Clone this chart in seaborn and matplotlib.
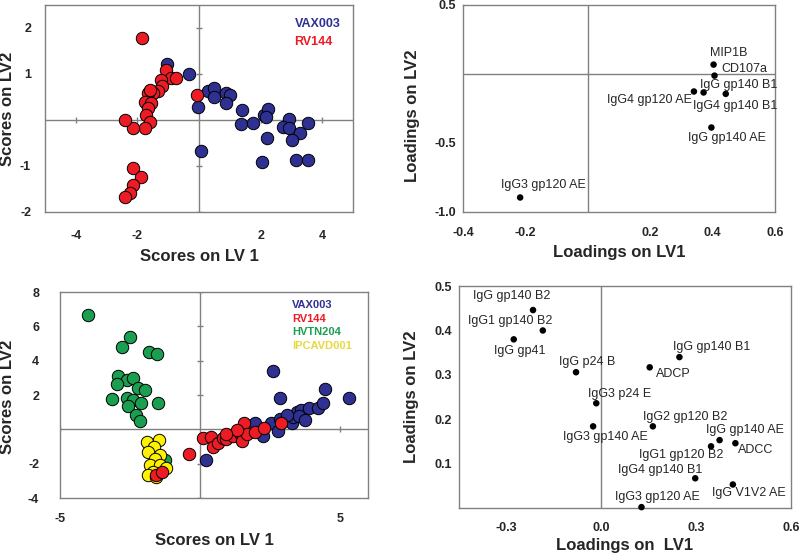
import matplotlib
matplotlib.use('Agg')
import matplotlib.pyplot as plt
import pandas as pd
import seaborn as sns

# ---- data: top-left scores (LV1, LV2) ----
s1_vax_x = [-1.03, -0.31, -0.02, 0.06, 0.28, 0.49, 0.49, 0.87, 1.01, 0.87, 1.39, 1.35, 1.76,
            2.11, 2.24, 2.19, 2.22, 2.05, 2.91, 2.73, 2.91, 3.29, 3.02, 3.53, 3.16, 3.53]
s1_vax_y = [1.21, 1.00, 0.29, -0.67, 0.62, 0.69, 0.51, 0.58, 0.54, 0.36, 0.22, -0.09, -0.06,
            0.11, 0.23, 0.07, -0.40, -0.92, 0.02, -0.15, -0.18, -0.29, -0.44, -0.06, -0.87, -0.86]
s1_rv_x = [-1.85, -1.06, -0.90, -0.74, -1.23, -1.19, -1.33, -1.49, -1.66, -1.60, -1.76, -1.55,
           -1.66, -1.71, -1.60, -1.76, -2.14, -2.39, -0.06, -2.14, -1.89, -2.14, -2.25, -2.41]
s1_rv_y = [1.79, 1.09, 0.91, 0.91, 0.87, 0.73, 0.62, 0.58, 0.58, 0.65, 0.40, 0.36,
           0.25, 0.11, -0.04, -0.18, -0.18, 0.01, 0.54, -1.05, -1.23, -1.42, -1.58, -1.67]

# ---- top-right loadings ----
l1_names = ['MIP1B', 'CD107a', 'IgG gp140 B1', 'IgG4 gp140 B1', 'IgG4 gp120 AE',
            'IgG gp140 AE', 'IgG3 gp120 AE']
l1_x = [0.403, 0.406, 0.442, 0.371, 0.340, 0.396, -0.217]
l1_y = [0.068, -0.012, -0.144, -0.134, -0.127, -0.388, -0.895]

# ---- bottom-left scores ----
s2_hvtn_x = [-3.99, -2.51, -2.77, -1.82, -1.52, -2.92, -2.62, -2.39, -2.96, -2.21, -1.95,
             -3.16, -2.59, -2.39, -2.09, -2.56, -1.50, -2.27, -2.13, -1.25]
s2_hvtn_y = [6.69, 5.39, 4.78, 4.49, 4.39, 3.08, 2.89, 3.02, 2.65, 2.40, 2.30,
             1.76, 1.85, 1.72, 1.52, 1.37, 1.56, 0.84, 0.51, -1.80]
s2_ipc_x = [-1.91, -1.46, -1.65, -1.85, -1.44, -1.62, -1.79, -1.44, -1.20, -1.67, -1.85, -1.56]
s2_ipc_y = [-0.72, -0.62, -1.01, -1.31, -1.50, -1.70, -2.09, -2.09, -2.28, -2.48, -2.67, -2.77]
s2_vax_x = [0.20, 2.62, 2.84, 1.95, 2.24, 2.54, 2.84, 2.78, 3.29, 3.31, 3.47, 3.61, 3.53,
            3.76, 3.91, 4.20, 4.38, 4.48, 5.31, 3.10]
s2_vax_y = [-1.80, 3.41, 1.81, 0.35, -0.39, 0.39, 0.59, -0.08, 0.39, 0.74, 1.03, 1.13, 0.78,
            0.55, 1.23, 1.23, 1.52, 2.34, 1.81, 0.84]
s2_rv_x = [-1.56, -1.34, -0.40, 0.11, 0.40, 0.46, 0.64, 0.82, 0.94, 1.18, 1.44, 1.50, 1.56,
           1.67, 1.95, 2.30, 2.90, 1.32, 0.94]
s2_rv_y = [-2.67, -2.48, -1.44, -0.53, -0.43, -1.01, -0.82, -0.53, -0.59, -0.39, -0.23, -0.66,
           0.39, -0.29, -0.14, 0.06, 0.35, -0.04, -0.30]

# ---- bottom-right loadings ----
l2_names = ['IgG gp140 B2', 'IgG1 gp140 B2', 'IgG gp41', 'IgG p24 B', 'IgG3 p24 E',
            'IgG3 gp140 AE', 'ADCP', 'IgG gp140 B1', 'IgG2 gp120 B2', 'IgG gp140 AE',
            'IgG1 gp120 B2', 'ADCC', 'IgG4 gp140 B1', 'IgG V1V2 AE', 'IgG3 gp120 AE']
l2_x = [-0.216, -0.185, -0.277, -0.080, -0.016, -0.026, 0.153, 0.247, 0.163, 0.374,
        0.347, 0.424, 0.297, 0.416, 0.127]
l2_y = [0.446, 0.400, 0.380, 0.306, 0.236, 0.184, 0.317, 0.340, 0.184, 0.153,
        0.139, 0.146, 0.067, 0.053, 0.002]

colors = {'VAX003': '#2e3192', 'RV144': '#ed1c24', 'HVTN204': '#1a9e50', 'IPCAVD001': '#fff200'}
text_colors = {'VAX003': '#2e3192', 'RV144': '#ed1c24', 'HVTN204': '#1a9e50', 'IPCAVD001': '#e8d840'}

sns.set_style('white')
plt.rcParams['font.family'] = ['Liberation Sans', 'DejaVu Sans']

fig = plt.figure(figsize=(8, 5.59), dpi=100)
ax1 = fig.add_axes([0.05625, 0.6208, 0.385, 0.3703])
ax2 = fig.add_axes([0.5788, 0.6208, 0.39, 0.3703])
ax3 = fig.add_axes([0.075, 0.1091, 0.385, 0.3685])
ax4 = fig.add_axes([0.5738, 0.0912, 0.415, 0.397])

line_c = '#808080'


def frame(ax, xlim, ylim, xt, yt, xtl, ytl, xpad, ypad, cross=True, marks=True):
    ax.set_xlim(xlim)
    ax.set_ylim(ylim)
    ax.set_xticks(xt)
    ax.set_xticklabels(xtl, fontweight='bold', fontsize=9)
    ax.set_yticks(yt)
    ax.set_yticklabels(ytl, fontweight='bold', fontsize=9)
    ax.tick_params(axis='x', length=0, pad=xpad)
    ax.tick_params(axis='y', length=0, pad=ypad)
    for sp in ax.spines.values():
        sp.set_color(line_c)
        sp.set_linewidth(1)
    ax.axvline(0, color=line_c, lw=1, zorder=0)
    if cross:
        ax.axhline(0, color=line_c, lw=1, zorder=0)
    if marks:
        # small tick marks on the crosshair
        ax.plot([0] * len(yt), yt, ls='none', marker='_', ms=4, color=line_c, zorder=0)
        ax.plot(xt, [0] * len(xt), ls='none', marker='|', ms=4, color=line_c, zorder=0)


def labels(ax, xlab, ylab, xy, yx, yy=0.5):
    ax.set_xlabel(xlab, fontweight='bold', fontsize=12, va='center')
    ax.set_ylabel(ylab, fontweight='bold', fontsize=12, va='center')
    ax.xaxis.set_label_coords(0.5, xy)
    ax.yaxis.set_label_coords(yx, yy)


def scores(ax, groups):
    for name, xs, ys in groups:
        df = pd.DataFrame({'x': xs, 'y': ys})
        sns.scatterplot(data=df, x='x', y='y', color=colors[name], s=80,
                        edgecolor='black', linewidth=0.7, ax=ax, zorder=3)


def legend_text(ax, names, x0, y0, step, fs):
    for i, n in enumerate(names):
        ax.text(x0, y0 - i * step, n, transform=ax.transAxes, color=text_colors[n],
                fontweight='bold', fontsize=fs, va='center')


def loadings(ax, names, xs, ys, offs):
    lt = pd.DataFrame({'x': xs, 'y': ys, 'name': names})
    sns.scatterplot(data=lt, x='x', y='y', color='black', s=22, edgecolor='none', ax=ax,
                    zorder=3, clip_on=False)
    for _, r in lt.iterrows():
        dx, dy, ha = offs[r['name']]
        ax.annotate(r['name'], (r['x'], r['y']), xytext=(dx, dy), textcoords='offset pixels',
                    ha=ha, va='center', fontsize=9)


# top-left
scores(ax1, [('VAX003', s1_vax_x, s1_vax_y), ('RV144', s1_rv_x, s1_rv_y)])
frame(ax1, (-5, 5), (-2, 2.5), [-4, -2, 2, 4], [-2, -1, 1, 2],
      ['-4', '-2', '2', '4'], ['-2', '-1', '1', '2'], 13, 10)
legend_text(ax1, ['VAX003', 'RV144'], 0.81, 0.908, 0.088, 9)
labels(ax1, 'Scores on LV 1', 'Scores on LV2', -0.217, -0.123)

# bottom-left
scores(ax3, [('HVTN204', s2_hvtn_x, s2_hvtn_y), ('IPCAVD001', s2_ipc_x, s2_ipc_y),
             ('VAX003', s2_vax_x, s2_vax_y), ('RV144', s2_rv_x, s2_rv_y)])
frame(ax3, (-5, 6), (-4, 8), [-5, 5], [-4, -2, 2, 4, 6, 8],
      ['-5', '5'], ['-4', '-2', '2', '4', '6', '8'], 11, 15)
legend_text(ax3, ['VAX003', 'RV144', 'HVTN204', 'IPCAVD001'], 0.753, 0.937, 0.066, 8)
labels(ax3, 'Scores on LV 1', 'Scores on LV2', -0.204, -0.172, 0.49)

# top-right loadings
off1 = {'MIP1B': (-4, 12, 'left'), 'CD107a': (7, 7, 'left'),
        'IgG gp140 B1': (-26, 9, 'left'), 'IgG4 gp140 B1': (-11, -14, 'left'),
        'IgG4 gp120 AE': (-2, -8, 'right'), 'IgG gp140 AE': (-23, -10, 'left'),
        'IgG3 gp120 AE': (-19, 12, 'left')}
loadings(ax2, l1_names, l1_x, l1_y, off1)
frame(ax2, (-0.4, 0.6), (-1.0, 0.5), [-0.4, -0.2, 0.2, 0.4, 0.6], [-1.0, -0.5, 0.5],
      ['-0.4', '-0.2', '0.2', '0.4', '0.6'], ['-1.0', '-0.5', '0.5'], 11, 5, marks=False)
labels(ax2, 'Loadings on LV1', 'Loadings on LV2', -0.198, -0.163, 0.464)

# bottom-right loadings
off2 = {'IgG gp140 B2': (-21, 14, 'center'), 'IgG1 gp140 B2': (10, 9, 'right'),
        'IgG gp41': (-20, -12, 'left'), 'IgG p24 B': (-17, 10, 'left'),
        'IgG3 p24 E': (-8, 9, 'left'), 'IgG3 gp140 AE': (-30, -11, 'left'),
        'ADCP': (6, -7, 'left'), 'IgG gp140 B1': (-6, 10, 'left'),
        'IgG2 gp120 B2': (-10, 9, 'left'), 'IgG gp140 AE': (-14, 10, 'left'),
        'IgG1 gp120 B2': (12, -9, 'right'), 'ADCC': (3, -7, 'left'),
        'IgG4 gp140 B1': (7, 8, 'right'), 'IgG V1V2 AE': (-21, -9, 'left'),
        'IgG3 gp120 AE': (-26, 10, 'left')}
loadings(ax4, l2_names, l2_x, l2_y, off2)
frame(ax4, (-0.45, 0.6), (0, 0.5), [-0.3, 0.0, 0.3, 0.6], [0.1, 0.2, 0.3, 0.4, 0.5],
      ['-0.3', '0.0', '0.3', '0.6'], ['0.1', '0.2', '0.3', '0.4', '0.5'], 10, 5,
      cross=False, marks=False)
labels(ax4, 'Loadings on  LV1', 'Loadings on LV2', -0.171, -0.142)

fig.savefig('out.png', dpi=100)
